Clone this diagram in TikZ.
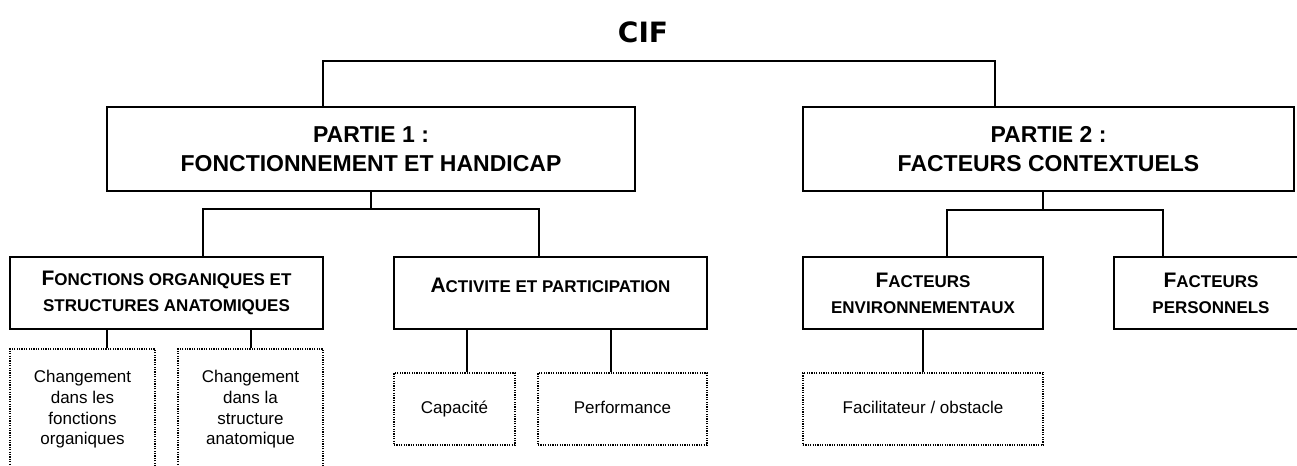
\documentclass[tikz,border=0pt]{standalone}
\usepackage{fontspec}
\setmainfont{Liberation Sans}
\newfontfamily\titrefont{DejaVu Sans}
\usepackage{tikz}
\usetikzlibrary{calc}
\newcommand{\grand}[1]{{\fontsize{15.75pt}{19.5pt}\selectfont #1}}

\begin{document}
\begin{tikzpicture}[x=0.75pt,y=-0.75pt,
    boite/.style={draw,line width=1.1pt,inner sep=0pt,align=center,
      font=\bfseries\fontsize{17.25pt}{21.75pt}\selectfont},
    categorie/.style={boite,minimum height=54pt,
      font=\bfseries\fontsize{12.75pt}{19.5pt}\selectfont},
    pointille/.style={draw,line width=0.9pt,dash pattern=on 0.9pt off 0.9pt,
      inner sep=0pt,align=center,font=\fontsize{12.75pt}{15.5pt}\selectfont},
    simple/.style={pointille,minimum height=54pt,text height=9.2pt,text depth=2.8pt},
    lien/.style={line width=1.1pt}]
  \useasboundingbox (0,0) rectangle (1297,465);
  \clip (0,0) rectangle (1297,465);

  % titre
  \node[font=\titrefont\bfseries\fontsize{21pt}{25pt}\selectfont] (cif) at (643,32) {CIF};

  % les deux parties
  \node[boite,minimum width=396pt,minimum height=63pt] (p1) at (371,149) {PARTIE 1 :\\FONCTIONNEMENT ET HANDICAP};
  \node[boite,minimum width=368.25pt,minimum height=63pt] (p2) at (1048.5,149) {PARTIE 2 :\\FACTEURS CONTEXTUELS};

  % composantes
  \node[categorie,minimum width=234.75pt] (fo) at (166.5,293) {\grand{F}ONCTIONS ORGANIQUES ET\\STRUCTURES ANATOMIQUES};
  \node[categorie,minimum width=234.75pt,text depth=11.25pt] (ac) at (550.5,293) {\grand{A}CTIVITE ET PARTICIPATION};
  \node[categorie,minimum width=180pt] (fe) at (923,293) {\grand{F}ACTEURS\\ENVIRONNEMENTAUX};
  \node[categorie,minimum width=145.5pt] (fp) at (1211,293) {\grand{F}ACTEURS\\PERSONNELS};

  % construits
  \node[pointille,minimum width=108.75pt,minimum height=90.75pt] (d1) at (82.5,409.5) {Changement\\dans les\\fonctions\\organiques};
  \node[pointille,minimum width=108.75pt,minimum height=90.75pt] (d2) at (250.5,409.5) {Changement\\dans la\\structure\\anatomique};
  \node[simple,minimum width=90.75pt] (d3) at (454.5,409) {Capacit\'e};
  \node[simple,minimum width=126.75pt] (d4) at (622.5,409) {Performance};
  \node[simple,minimum width=180pt] (d5) at (923,409) {Facilitateur / obstacle};

  % points de jonction
  \coordinate (t1) at (323,61);
  \coordinate (t2) at (995,61);
  \coordinate (g1) at (203,209);
  \coordinate (g2) at (539,209);
  \coordinate (g3) at (947,210);
  \coordinate (g4) at (1163,210);
  \coordinate (g5) at (1043,210);
  \coordinate (h1) at (107,340);
  \coordinate (h2) at (251,340);
  \coordinate (h3) at (467,350);
  \coordinate (h4) at (611,350);

  % liens
  \draw[lien] (p1.north -| t1) -- (t1) -- (t2) -- (p2.north -| t2);
  \draw[lien] (p1.south) -- (p1.south |- g1);
  \draw[lien] (fo.north -| g1) -- (g1) -- (g2) -- (ac.north -| g2);
  \draw[lien] (p2.south -| g5) -- (g5);
  \draw[lien] (fe.north -| g3) -- (g3) -- (g4) -- (fp.north -| g4);
  \draw[lien] (fo.south -| h1) -- (d1.north -| h1);
  \draw[lien] (fo.south -| h2) -- (d2.north -| h2);
  \draw[lien] (ac.south -| h3) -- (d3.north -| h3);
  \draw[lien] (ac.south -| h4) -- (d4.north -| h4);
  \draw[lien] (fe.south) -- (d5.north);
\end{tikzpicture}
\end{document}
